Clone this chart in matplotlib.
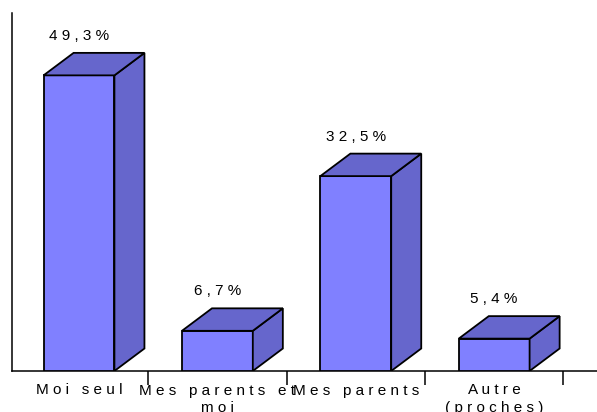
import numpy as np
import matplotlib.pyplot as plt
from matplotlib.patches import Polygon

categories = ["Moi seul", "Mes parents et\nmoi", "Mes parents", "Autre\n(proches)"]
values = [49.3, 6.7, 32.5, 5.4]
value_labels = ["49,3%", "6,7%", "32,5%", "5,4%"]

plt.rcParams['font.family'] = ['Liberation Sans', 'DejaVu Sans']

front_col = '#8080ff'
side_col = '#6666cc'


def spaced(s):
    # wide letter spacing like the original
    return "\n".join(" ".join(line) for line in s.split("\n"))


fig = plt.figure(figsize=(5.97, 4.12), dpi=100)
ax = fig.add_axes([12 / 597, 41 / 412, 585 / 597, 358 / 412])

w = 0.256   # half width of the front face
dx = 0.217  # depth, category units
dy = 3.75   # depth, % units

x = np.arange(len(values))
ax.bar(x, values, width=2 * w, color=front_col, edgecolor='black', linewidth=1.3, zorder=3)
for xi, h in zip(x, values):
    x0, x1 = xi - w, xi + w
    side = Polygon([(x1, 0), (x1 + dx, dy), (x1 + dx, h + dy), (x1, h)],
                   closed=True, facecolor=side_col, edgecolor='black', linewidth=1.3, zorder=3)
    top = Polygon([(x0, h), (x0 + dx, h + dy), (x1 + dx, h + dy), (x1, h)],
                  closed=True, facecolor=side_col, edgecolor='black', linewidth=1.3, zorder=3)
    ax.add_patch(side)
    ax.add_patch(top)

for xi, h, lab in zip(x, values, value_labels):
    ax.text(xi, h + 6.6, spaced(lab), ha='center', va='center', fontsize=11)

ax.set_xlim(-0.484, 3.743)
ax.set_ylim(0, 59.7)

ax.set_xticks(x + 0.5)
ax.set_xticklabels([])
ax.tick_params(axis='x', which='major', direction='out', length=10, width=1.1)
ax.set_xticks(x, minor=True)
ax.set_xticklabels([spaced(c) for c in categories], minor=True, fontsize=11, linespacing=1.3)
ax.tick_params(axis='x', which='minor', length=0, pad=9)
ax.set_yticks([])

for s in ['top', 'right']:
    ax.spines[s].set_visible(False)
for s in ['left', 'bottom']:
    ax.spines[s].set_linewidth(1.1)

fig.savefig('out.png', dpi=100)
